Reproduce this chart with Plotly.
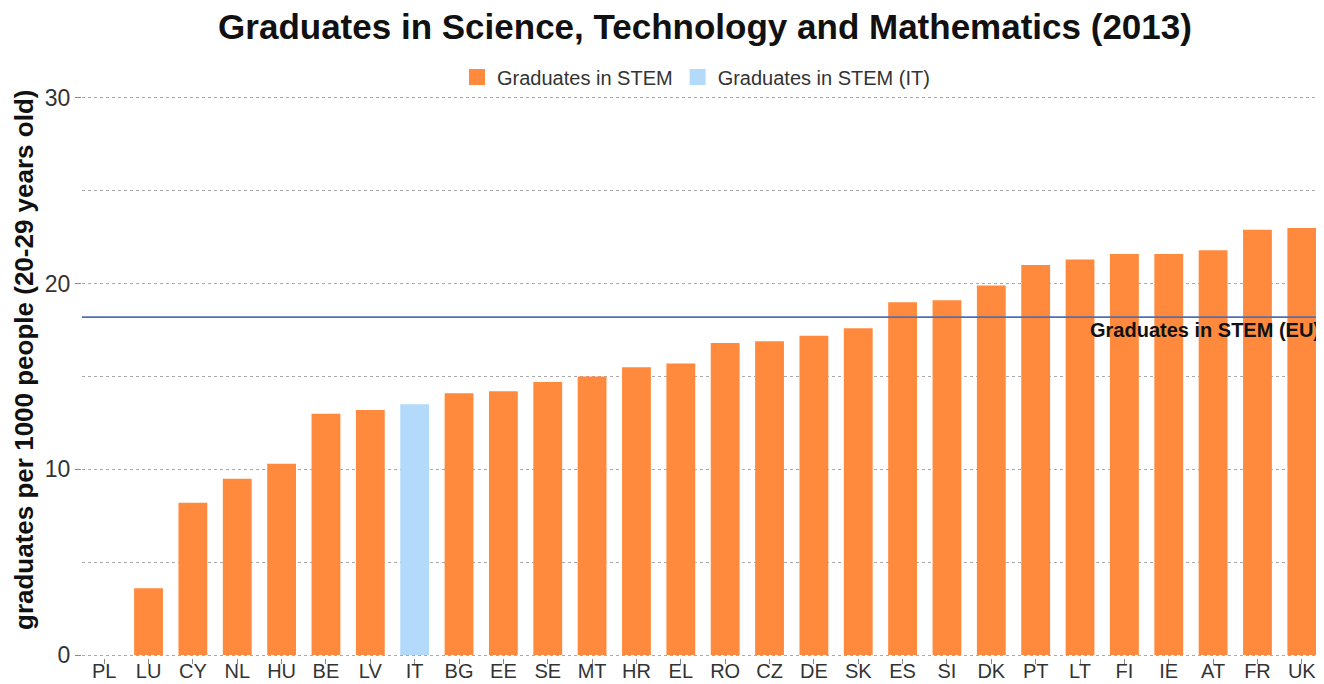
import plotly.graph_objects as go

countries = ["PL", "LU", "CY", "NL", "HU", "BE", "LV", "IT", "BG", "EE", "SE", "MT", "HR", "EL",
             "RO", "CZ", "DE", "SK", "ES", "SI", "DK", "PT", "LT", "FI", "IE", "AT", "FR", "UK"]
values = [0.0, 3.6, 8.2, 9.5, 10.3, 13.0, 13.2, 13.5, 14.1, 14.2, 14.7, 15.0, 15.5, 15.7,
          16.8, 16.9, 17.2, 17.6, 19.0, 19.1, 19.9, 21.0, 21.3, 21.6, 21.6, 21.8, 22.9, 23.0]
highlight = "IT"
eu_value = 18.2
y_ticks = [0, 10, 20, 30]

orange = "#FF8A3D"
blue = "#B3DAFB"
font_family = "Arial, Liberation Sans, sans-serif"

# figure is placed 8px from page corner (body margin), so sizes are reduced by 8
W, H = 1316, 676
PL_L, PL_T, PL_B = 74, 87, 26

x_main = [c for c in countries if c != highlight]
y_main = [v for c, v in zip(countries, values) if c != highlight]
x_hi = [c for c in countries if c == highlight]
y_hi = [v for c, v in zip(countries, values) if c == highlight]

fig = go.Figure()
fig.add_trace(go.Bar(x=x_main, y=y_main, name="Graduates in STEM", showlegend=False,
                     marker=dict(color=orange, line=dict(width=0)), width=0.65))
fig.add_trace(go.Bar(x=x_hi, y=y_hi, name="Graduates in STEM (IT)", showlegend=False,
                     marker=dict(color=blue, line=dict(width=0)), width=0.65))
# legend entries with larger square keys
fig.add_trace(go.Scatter(x=[None], y=[None], mode="markers", name="Graduates in STEM",
                         marker=dict(symbol="square", size=20, color=orange)))
fig.add_trace(go.Scatter(x=[None], y=[None], mode="markers", name="Graduates in STEM (IT)",
                         marker=dict(symbol="square", size=20, color=blue)))

plot_w = W - PL_L
plot_h = H - PL_T - PL_B

fig.add_shape(type="line", xref="paper", x0=0, x1=1, yref="y", y0=eu_value, y1=eu_value,
              line=dict(color="#4F6FB3", width=1.6), layer="above")
fig.add_annotation(xref="paper", x=(1314 - PL_L) / plot_w, yref="y", y=eu_value - 0.7,
                   text="<b>Graduates in STEM (EU)</b>",
                   showarrow=False, xanchor="right", yanchor="middle",
                   font=dict(family=font_family, size=20, color="#111111"))

fig.add_annotation(xref="paper", yref="paper",
                   x=(16 - PL_L) / plot_w, y=(H - PL_B - 352) / plot_h,
                   text="<b>graduates per 1000 people (20-29 years old)</b>", textangle=-90,
                   showarrow=False, xanchor="center", yanchor="middle",
                   font=dict(family=font_family, size=26, color="#111111"))

fig.update_layout(
    width=W, height=H,
    barmode="overlay",
    plot_bgcolor="white", paper_bgcolor="white",
    margin=dict(l=PL_L, r=0, t=PL_T, b=PL_B, autoexpand=False),
    font=dict(family=font_family, color="#333333"),
    title=dict(text="<b>Graduates in Science, Technology and Mathematics (2013)</b>",
               x=697 / W, xref="container", xanchor="center",
               y=1 - 19 / H, yref="container", yanchor="middle",
               font=dict(family=font_family, size=35, color="#111111")),
    legend=dict(orientation="h", x=0.5 - 7 / plot_w, xanchor="center", xref="paper",
                y=1 + 18 / plot_h, yanchor="middle",
                font=dict(family=font_family, size=20, color="#333333"),
                traceorder="normal", itemwidth=30),
    showlegend=True,
)

fig.update_xaxes(
    categoryorder="array", categoryarray=countries,
    range=[-0.5, len(countries) - 0.5], automargin=False,
    showgrid=False, showline=False, zeroline=False,
    ticks="outside", ticklen=5, tickcolor="#888888",
    ticklabelstandoff=-10,
    tickfont=dict(family=font_family, size=20, color="#333333"),
)
fig.update_yaxes(
    range=[-0.16, 30.16], tickvals=y_ticks, automargin=False,
    showgrid=True, gridcolor="#AAAAAA", griddash="dot", gridwidth=1,
    minor=dict(dtick=5, showgrid=True, gridcolor="#AAAAAA", griddash="dot", gridwidth=1),
    zeroline=False, showline=False,
    ticks="outside", ticklen=6, tickcolor="#888888",
    tickfont=dict(family=font_family, size=23, color="#333333"),
)

fig.write_html("out.html")
